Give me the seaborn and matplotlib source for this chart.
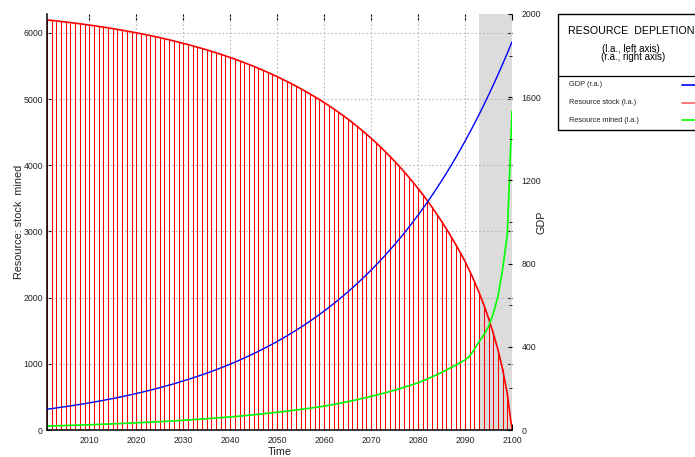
import matplotlib
matplotlib.use("Agg")
import matplotlib.pyplot as plt
from matplotlib.ticker import MultipleLocator, FixedLocator
from matplotlib.patches import Rectangle
from matplotlib.lines import Line2D
import seaborn as sns
import pandas as pd

# Annual series, 2001-2100
years = list(range(2001, 2101))

gdp = [100.0, 103.0, 106.1, 109.3, 112.6, 115.9, 119.4, 123.0, 126.7, 130.5,
       134.4, 138.4, 142.6, 146.9, 151.3, 155.8, 160.5, 165.3, 170.2, 175.4,
       180.6, 186.0, 191.6, 197.4, 203.3, 209.4, 215.7, 222.1, 228.8, 235.7,
       242.7, 250.0, 257.5, 265.2, 273.2, 281.4, 289.8, 298.5, 307.5, 316.7,
       326.2, 336.0, 346.1, 356.5, 367.2, 378.2, 389.5, 401.2, 413.2, 425.6,
       438.4, 451.6, 465.1, 479.1, 493.4, 508.2, 523.5, 539.2, 555.4, 572.0,
       589.2, 606.9, 625.1, 643.8, 663.1, 683.0, 703.5, 724.6, 746.4, 768.8,
       791.8, 815.6, 840.1, 865.3, 891.2, 917.9, 945.5, 973.8, 1003.0, 1033.1,
       1064.1, 1096.0, 1129.0, 1162.8, 1197.7, 1233.6, 1270.6, 1308.8, 1348.0, 1388.5,
       1430.1, 1473.0, 1517.2, 1562.7, 1609.6, 1657.9, 1707.6, 1758.9, 1811.6, 1866.0]

mined = [60, 62, 64, 66, 68, 70, 72, 75, 77, 79,
         82, 85, 87, 90, 93, 96, 99, 102, 105, 109,
         112, 115, 119, 123, 126, 130, 134, 138, 142, 147,
         151, 156, 161, 165, 171, 176, 181, 187, 192, 198,
         204, 210, 217, 223, 230, 237, 245, 252, 260, 268,
         276, 284, 293, 302, 311, 320, 330, 340, 351, 361,
         373, 386, 399, 413, 428, 443, 458, 474, 490, 507,
         525, 543, 562, 581, 602, 622, 644, 666, 689, 713,
         742, 772, 804, 836, 870, 905, 942, 980, 1019, 1059,
         1115, 1223, 1335, 1438, 1561, 1757, 2015, 2427, 2953, 4814]

stock = [6196, 6188, 6181, 6172, 6164, 6155, 6146, 6137, 6128, 6118,
         6108, 6097, 6087, 6076, 6064, 6052, 6040, 6027, 6014, 6001,
         5987, 5973, 5958, 5943, 5928, 5911, 5895, 5878, 5860, 5842,
         5824, 5804, 5784, 5764, 5743, 5721, 5699, 5676, 5652, 5628,
         5603, 5577, 5550, 5522, 5494, 5465, 5434, 5403, 5371, 5338,
         5304, 5269, 5233, 5196, 5157, 5118, 5077, 5035, 4992, 4947,
         4901, 4854, 4804, 4753, 4701, 4646, 4589, 4531, 4470, 4408,
         4343, 4276, 4207, 4135, 4061, 3984, 3904, 3822, 3737, 3649,
         3558, 3462, 3363, 3260, 3153, 3041, 2925, 2804, 2678, 2547,
         2400, 2245, 2075, 1890, 1690, 1465, 1215, 915, 550, 0]

shade_start, shade_end = 2093, 2100
x_ticks = [2010, 2020, 2030, 2040, 2050, 2060, 2070, 2080, 2090, 2100]
left_ticks = [0, 1000, 2000, 3000, 4000, 5000, 6000]
right_ticks = [0, 400, 800, 1200, 1600, 2000]

df = pd.DataFrame({"year": years, "gdp": gdp, "stock": stock, "mined": mined})

sns.set_theme(style="white")
plt.rcParams["font.family"] = ["Liberation Sans", "DejaVu Sans"]

RED = "#ff0000"
BLUE = "#0000ff"
GREEN = "#00ff00"
GRID = "#b8b8b8"
TXT = "#222222"

fig = plt.figure(figsize=(6.95, 4.57), dpi=100)
ax = fig.add_axes([47 / 695, 27 / 457, 465 / 695, 416 / 457])
ax.set_xlim(2001, 2100)
ax.set_ylim(0, 6285)

# shaded period
ax.axvspan(shade_start, shade_end, color="#dcdcdc", lw=0, zorder=0)

# grid
ax.set_axisbelow(True)
for xv in x_ticks:
    ax.axvline(xv, color=GRID, lw=0.8, ls=(0, (1.5, 2)), zorder=0.6)
for yv in left_ticks[1:]:
    ax.axhline(yv, color=GRID, lw=0.8, ls=(0, (1.5, 2)), zorder=0.6)

# resource stock: impulses plus line
ax.vlines(df["year"], 0, df["stock"], color=RED, lw=0.75, zorder=1)
sns.lineplot(data=df, x="year", y="stock", ax=ax, color=RED, lw=1.2, zorder=2)
sns.lineplot(data=df, x="year", y="mined", ax=ax, color=GREEN, lw=1.2, zorder=3)

ax2 = ax.twinx()
ax2.set_ylim(0, 2000)
sns.lineplot(data=df, x="year", y="gdp", ax=ax2, color=BLUE, lw=1.0, zorder=3)
ax2.set_xlim(2001, 2100)

# spines
for sp in ["top", "right"]:
    ax.spines[sp].set_visible(False)
for sp in ["top", "right", "left", "bottom"]:
    ax2.spines[sp].set_visible(False)
for sp in ["left", "bottom"]:
    ax.spines[sp].set_color("black")
    ax.spines[sp].set_linewidth(1.1)
    ax.spines[sp].set_zorder(5)

# ticks
ax.xaxis.set_major_locator(FixedLocator(x_ticks))
ax.yaxis.set_major_locator(FixedLocator(left_ticks))
ax2.yaxis.set_major_locator(FixedLocator(right_ticks))
ax2.yaxis.set_minor_locator(MultipleLocator(200))
ax.tick_params(axis="x", direction="in", length=4, width=0.8, color="black",
               top=True, bottom=True, labelsize=6.3, labelcolor=TXT, pad=4)
ax.tick_params(axis="y", direction="in", length=3, width=0.8, color="black",
               left=True, right=True, labelsize=6.3, labelcolor=TXT, pad=3)
ax2.tick_params(axis="y", which="major", direction="in", length=3, width=0.8,
                color="black", right=True, labelsize=6.3, labelcolor=TXT, pad=7)
ax2.tick_params(axis="y", which="minor", direction="in", length=2, width=0.6,
                color="black", right=True)
ax2.tick_params(axis="x", bottom=False, top=False, labelbottom=False)

ax.set_xlabel("Time", fontsize=7.8, color=TXT, labelpad=2)
ax.set_ylabel("Resource: stock  mined", fontsize=7.8, color=TXT)
ax2.set_ylabel("GDP", fontsize=7.8, color=TXT)
ax.yaxis.set_label_coords(-0.049, 0.5)
ax2.yaxis.set_label_coords(1.053, 0.5)

# key box
def fx(px):
    return px / 695

def fy(py):
    return 1 - py / 457

fig.add_artist(Rectangle((fx(558), fy(129.5)), fx(160), fy(14) - fy(129.5),
                         transform=fig.transFigure, fill=False,
                         edgecolor="black", lw=1.0, clip_on=False))
fig.add_artist(Line2D([fx(558), 1.0], [fy(76), fy(76)], transform=fig.transFigure,
                      color="black", lw=0.9))
fig.text(fx(631), fy(31), "RESOURCE  DEPLETION", ha="center", va="center",
         fontsize=7.7, color="black")
fig.text(fx(631), fy(49), "(l.a., left axis)", ha="center", va="center",
         fontsize=7, color="black")
fig.text(fx(633.5), fy(57.5), "(r.a., right axis)", ha="center", va="center",
         fontsize=7, color="black")

entries = [("GDP (r.a.)", BLUE, 85), ("Resource stock (l.a.)", "#ff6060", 102.7),
           ("Resource mined (l.a.)", GREEN, 120)]
for label, col, py in entries:
    fig.text(fx(569), fy(py), label, ha="left", va="center", fontsize=5.3, color=TXT)
    fig.add_artist(Line2D([fx(682), 1.0], [fy(py), fy(py)], transform=fig.transFigure,
                          color=col, lw=1.2))

fig.savefig("out.png", dpi=100, facecolor="white")
